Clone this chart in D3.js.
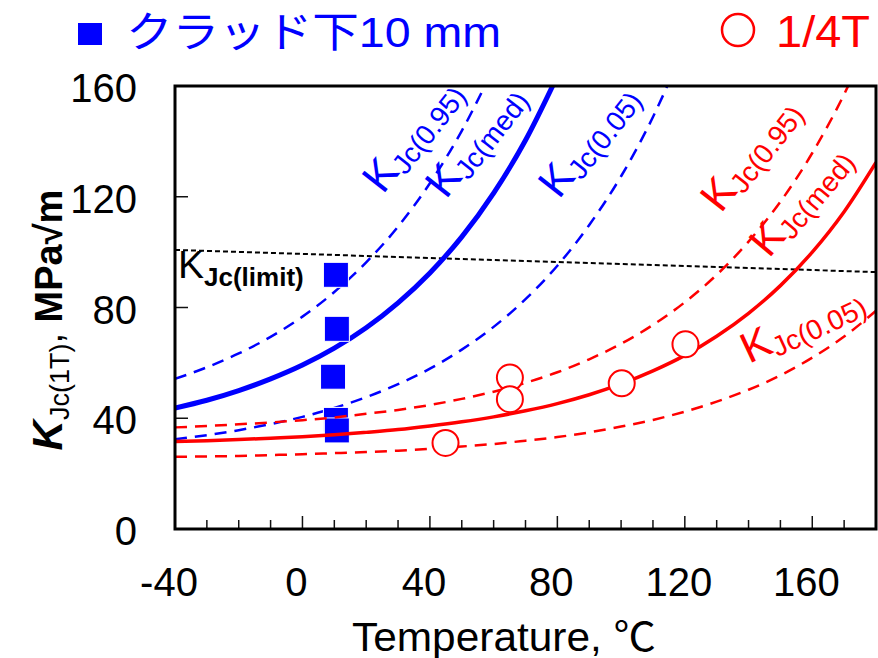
<!DOCTYPE html>
<html>
<head>
<meta charset="utf-8">
<script src="https://cdn.jsdelivr.net/npm/d3@7/dist/d3.min.js"></script>
<style>
  body { margin: 0; background: #fff; }
  text { font-family: 'Liberation Sans', Arial, 'Noto Sans CJK JP', sans-serif; }
</style>
</head>
<body>
<div id="chart"></div>
<script>
const tempGrid = [-40, -30, -20, -10, 0, 10, 20, 30, 40, 50, 60, 70, 80, 90, 100, 110, 120, 130, 140, 150, 160, 170, 180];

// clad-side (blue) master curves, MPa*sqrt(m)
const blueMed = [43.7, 46.5, 50.0, 54.2, 59.2, 65.3, 72.7, 81.7, 92.5, 105.5, 121.3, 140.4, 163.6];
const blue95  = [54.2, 58.4, 63.4, 69.4, 76.7, 85.6, 96.3, 109.2, 124.9, 143.8, 166.6];
const blue05  = [32.4, 33.9, 35.7, 37.9, 40.5, 43.7, 47.6, 52.3, 57.9, 64.8, 73.0, 83.0, 95.1, 109.8, 127.4, 148.8, 174.7];

// 1/4T (red) master curves
const redMed = [31.6, 31.9, 32.3, 32.8, 33.3, 34.0, 34.9, 35.9, 37.2, 38.7, 40.5, 42.7, 45.3, 48.5, 52.4, 57.1, 62.7, 69.6, 77.9, 87.9, 100.0, 114.6, 132.4];
const red95  = [36.7, 37.2, 37.8, 38.5, 39.3, 40.3, 41.6, 43.0, 44.8, 47.0, 49.6, 52.8, 56.6, 61.3, 66.9, 73.7, 81.9, 91.8, 103.8, 118.2, 135.8, 157.0, 182.6];
const red05  = [26.1, 26.2, 26.4, 26.7, 27.0, 27.4, 27.8, 28.3, 29.0, 29.8, 30.7, 31.9, 33.2, 34.9, 37.0, 39.4, 42.4, 46.0, 50.3, 55.5, 61.9, 69.5, 78.8];

// test results
const cladTemps = [10.5, 10.8, 9.6, 10.5, 10.8];
const cladK     = [91.8, 72.3, 55.0, 39.4, 35.6];
const qtTemps   = [44.9, 65.1, 65.1, 100.2, 120.2];
const qtK       = [31.1, 54.7, 46.9, 52.6, 66.7];

// K_Jc(limit) line end points
const limitTemps = [-40, 180];
const limitK     = [100.8, 92.8];

const xTickLabels = [-40, 0, 40, 80, 120, 160];
const yTickLabels = [0, 40, 80, 120, 160];

class MasterCurveChart {

    constructor(_config) {
        this.config = {
            parentElement: _config.parentElement,
            containerWidth: _config.containerWidth || 878,
            containerHeight: _config.containerHeight || 658,
            margin: _config.margin || {top: 86, right: 2, bottom: 129, left: 175}
        };
        this.initVis();
    }

    initVis() {
        let vis = this;

        vis.width = vis.config.containerWidth - vis.config.margin.left - vis.config.margin.right;
        vis.height = vis.config.containerHeight - vis.config.margin.top - vis.config.margin.bottom;

        vis.svg = d3.select(vis.config.parentElement)
            .append('svg')
            .attr('width', vis.config.containerWidth)
            .attr('height', vis.config.containerHeight);

        vis.chart = vis.svg.append('g')
            .attr('transform', `translate(${vis.config.margin.left},${vis.config.margin.top})`);

        vis.xScale = d3.scaleLinear().domain([-40, 180]).range([0, vis.width]);
        vis.yScale = d3.scaleLinear().domain([0, 160]).range([vis.height, 0]);

        vis.svg.append('defs').append('clipPath')
            .attr('id', 'plot-clip')
            .append('rect')
            .attr('width', vis.width)
            .attr('height', vis.height);

        vis.plot = vis.chart.append('g').attr('clip-path', 'url(#plot-clip)');

        vis.line = d3.line()
            .x(d => vis.xScale(d[0]))
            .y(d => vis.yScale(d[1]))
            .curve(d3.curveMonotoneX);
    }

    series(values) {
        return values.map((v, i) => [tempGrid[i], v]);
    }

    renderVis() {
        let vis = this;

        // limit line
        vis.plot.append('path')
            .attr('d', vis.line(limitTemps.map((t, i) => [t, limitK[i]])))
            .attr('fill', 'none')
            .attr('stroke', '#000')
            .attr('stroke-width', 2)
            .attr('stroke-dasharray', '5,3');

        const blueCurves = [
            {values: blue95, dash: '12,8', w: 2.5},
            {values: blue05, dash: '12,8', w: 2.5},
            {values: blueMed, dash: null, w: 5}
        ];
        blueCurves.forEach(c => {
            vis.plot.append('path')
                .attr('d', vis.line(vis.series(c.values)))
                .attr('fill', 'none')
                .attr('stroke', '#0000ff')
                .attr('stroke-width', c.w)
                .attr('stroke-dasharray', c.dash);
        });

        vis.plot.selectAll('.clad')
            .data(cladTemps)
            .enter()
            .append('rect')
            .attr('class', 'clad')
            .attr('x', (d, i) => vis.xScale(d) - 12.5)
            .attr('y', (d, i) => vis.yScale(cladK[i]) - 12.5)
            .attr('width', 25)
            .attr('height', 25)
            .attr('fill', '#0000ff')
            .attr('stroke', '#fff')
            .attr('stroke-width', 1);

        const redCurves = [
            {values: red95, dash: '12,8', w: 2.5},
            {values: red05, dash: '12,8', w: 2.5},
            {values: redMed, dash: null, w: 3.5}
        ];
        redCurves.forEach(c => {
            vis.plot.append('path')
                .attr('d', vis.line(vis.series(c.values)))
                .attr('fill', 'none')
                .attr('stroke', '#ff0000')
                .attr('stroke-width', c.w)
                .attr('stroke-dasharray', c.dash);
        });

        vis.plot.selectAll('.qt')
            .data(qtTemps)
            .enter()
            .append('circle')
            .attr('class', 'qt')
            .attr('cx', d => vis.xScale(d))
            .attr('cy', (d, i) => vis.yScale(qtK[i]))
            .attr('r', 13)
            .attr('fill', '#fff')
            .attr('stroke', '#ff0000')
            .attr('stroke-width', 2);

        // ticks, pointing inwards
        d3.range(-30, 180, 10).forEach(t => {
            let len = (t % 40 === 0) ? 13 : 9;
            vis.chart.append('line')
                .attr('x1', vis.xScale(t)).attr('x2', vis.xScale(t))
                .attr('y1', vis.height).attr('y2', vis.height - len)
                .attr('stroke', '#111').attr('stroke-width', 1.5);
        });
        [40, 80, 120].forEach(k => {
            vis.chart.append('line')
                .attr('x1', 0).attr('x2', 13)
                .attr('y1', vis.yScale(k)).attr('y2', vis.yScale(k))
                .attr('stroke', '#111').attr('stroke-width', 1.5);
        });

        vis.chart.append('rect')
            .attr('width', vis.width)
            .attr('height', vis.height)
            .attr('fill', 'none')
            .attr('stroke', '#000')
            .attr('stroke-width', 3);

        vis.chart.selectAll('.x-label')
            .data(xTickLabels)
            .enter()
            .append('text')
            .attr('class', 'x-label')
            .attr('x', d => vis.xScale(d) - 6)
            .attr('y', vis.height + 67)
            .attr('text-anchor', 'middle')
            .attr('font-size', 40)
            .text(d => d);

        vis.chart.selectAll('.y-label')
            .data(yTickLabels)
            .enter()
            .append('text')
            .attr('class', 'y-label')
            .attr('x', -38)
            .attr('y', d => vis.yScale(d) + 16)
            .attr('text-anchor', 'end')
            .attr('font-size', 40)
            .text(d => d);

        vis.svg.append('text')
            .attr('x', 352)
            .attr('y', 651)
            .attr('font-size', 40)
            .attr('textLength', 304)
            .attr('lengthAdjust', 'spacingAndGlyphs')
            .text('Temperature, ℃');

        let yTitle = vis.svg.append('text')
            .attr('transform', 'translate(62,320) rotate(-90)')
            .attr('text-anchor', 'middle')
            .attr('font-size', 38);
        yTitle.append('tspan').attr('font-weight', 'bold').attr('font-style', 'italic').attr('font-size', 42).text('K');
        yTitle.append('tspan').attr('font-size', 27).attr('dy', 7).text('Jc(1T)');
        yTitle.append('tspan').attr('dy', -7).text(', ');
        yTitle.append('tspan').attr('font-weight', 'bold').text('MPa√m');

        // K_Jc(limit)
        let lim = vis.svg.append('text')
            .attr('x', 178)
            .attr('y', 278)
            .attr('font-size', 39);
        lim.append('tspan').text('K');
        lim.append('tspan').attr('font-size', 26).attr('font-weight', 'bold').attr('dy', 8).text('Jc(limit)');

        // rotated curve labels
        const curveLabels = [
            {sub: 'Jc(0.95)', x: 383, y: 195, a: -52, c: '#0000ff'},
            {sub: 'Jc(med)',  x: 446, y: 200, a: -52, c: '#0000ff'},
            {sub: 'Jc(0.05)', x: 559, y: 200, a: -52, c: '#0000ff'},
            {sub: 'Jc(0.95)', x: 721, y: 214, a: -52, c: '#ff0000'},
            {sub: 'Jc(med)',  x: 769, y: 259, a: -50, c: '#ff0000'},
            {sub: 'Jc(0.05)', x: 749, y: 364, a: -25, c: '#ff0000'}
        ];
        curveLabels.forEach(l => {
            let t = vis.svg.append('text')
                .attr('transform', `translate(${l.x},${l.y}) rotate(${l.a})`)
                .attr('fill', l.c)
                .attr('font-size', 43);
            t.append('tspan').text('K');
            t.append('tspan').attr('font-size', 28).attr('dy', 6).text(l.sub);
        });

        // legend
        vis.svg.append('rect')
            .attr('x', 78).attr('y', 23)
            .attr('width', 24).attr('height', 22)
            .attr('fill', '#0000ff');
        vis.svg.append('text')
            .attr('x', 126)
            .attr('y', 47)
            .attr('font-size', 42)
            .attr('fill', '#0000ff')
            .attr('textLength', 375)
            .attr('lengthAdjust', 'spacingAndGlyphs')
            .text('クラッド下10 mm');
        vis.svg.append('circle')
            .attr('cx', 738).attr('cy', 30).attr('r', 16)
            .attr('fill', 'none')
            .attr('stroke', '#ff0000')
            .attr('stroke-width', 2.5);
        vis.svg.append('text')
            .attr('x', 776)
            .attr('y', 47)
            .attr('font-size', 44)
            .attr('fill', '#ff0000')
            .attr('textLength', 94)
            .attr('lengthAdjust', 'spacingAndGlyphs')
            .text('1/4T');
    }
}

const chart = new MasterCurveChart({parentElement: '#chart'});
chart.renderVis();
</script>
</body>
</html>
